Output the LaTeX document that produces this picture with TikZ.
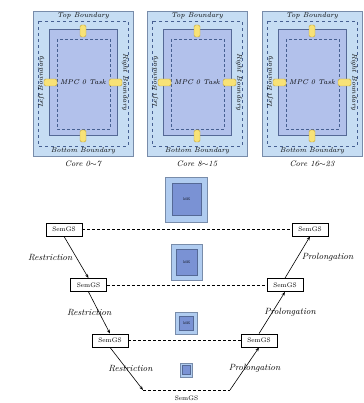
\documentclass[tikz,border=0pt]{standalone}
\usetikzlibrary{arrows.meta}
\definecolor{panelbg}{RGB}{198,221,243}
\definecolor{panelline}{RGB}{120,140,170}
\definecolor{dashline}{RGB}{70,95,145}
\definecolor{innerbg}{RGB}{178,193,235}
\definecolor{innerline}{RGB}{85,105,150}
\definecolor{portfill}{RGB}{248,226,118}
\definecolor{portline}{RGB}{195,165,60}
\definecolor{sqout}{RGB}{176,204,240}
\definecolor{sqin}{RGB}{122,146,212}
\begin{document}
\begin{tikzpicture}[x=1pt,y=-1pt,
  gsbox/.style={draw,line width=.8pt,fill=white,minimum width=36pt,minimum height=13pt,inner sep=1pt,font=\fontsize{6.5}{7}\selectfont},
  lab/.style={font=\fontsize{9}{10}\selectfont\itshape},
  bnd/.style={font=\fontsize{7}{8}\selectfont\itshape,inner sep=0pt},
  port/.style={draw=portline,fill=portfill,rounded corners=1.5pt,line width=.4pt}]
  \useasboundingbox (0,0) rectangle (363,403);
  \foreach \x/\c in {33/{0$\sim$7},147/{8$\sim$15},262/{16$\sim$23}}{
    \begin{scope}[shift={(\x,0)}]
      \draw[fill=panelbg,draw=panelline] (0,11) rectangle (100,156);
      \draw[dashed,draw=dashline,line width=.6pt] (5,21) rectangle (95,146);
      \draw[fill=innerbg,draw=innerline,line width=1pt] (16,30) rectangle (84,136);
      \draw[densely dashed,draw=dashline,line width=.6pt] (24,39) rectangle (77,129);
      \draw[port] (47,25) rectangle (53,37);
      \draw[port] (47,130) rectangle (53,142);
      \draw[port] (11,79) rectangle (24,86);
      \draw[port] (76,79) rectangle (89,86);
      \node[bnd] (top) at (50,16) {Top Boundary};
      \node[bnd] (bottom) at (50,151) {Bottom Boundary};
      \node[bnd,rotate=90] (left) at (8,82) {Left Boundary};
      \node[bnd,rotate=-90] (right) at (92,82) {Right Boundary};
      \node[bnd] (task) at (50,82.5) {MPC 0 Task};
      \node[font=\fontsize{8}{9}\selectfont\itshape] (core) at (50,164) {Core \c};
    \end{scope}}
  \foreach \cy/\w/\h/\iw/\ih in {199.5/42/45/29/32,262/31/36/21/26,323/22/22/14/14,370/12/14/8/9}{
    \draw[fill=sqout,draw=panelline] (186.5-\w/2,\cy-\h/2) rectangle ++(\w,\h);
    \draw[fill=sqin,draw=innerline,line width=.7pt] (186.5-\iw/2,\cy-\ih/2) rectangle ++(\iw,\ih);}
  \foreach \cy in {199.5,262,323}
    \node[font=\fontsize{3.5}{4}\selectfont,inner sep=0pt] at (186.5,\cy) {ME};
  \node[gsbox] (l1) at (64,229.5) {SemGS};
  \node[gsbox] (r1) at (310,229.5) {SemGS};
  \node[gsbox] (l2) at (88.5,285) {SemGS};
  \node[gsbox] (r2) at (285,285) {SemGS};
  \node[gsbox] (l3) at (110,340.5) {SemGS};
  \node[gsbox] (r3) at (259,340.5) {SemGS};
  \coordinate (b1) at (143,390);
  \coordinate (b2) at (230,390);
  \node[font=\fontsize{6.5}{7}\selectfont,inner sep=0pt] (bot) at (186.5,398) {SemGS};
  \draw[densely dashed,line width=.8pt] (l1) -- (r1);
  \draw[densely dashed,line width=.8pt] (l2) -- (r2);
  \draw[densely dashed,line width=.8pt] (l3) -- (r3);
  \draw[densely dashed,line width=.8pt] (b1) -- (b2);
  \draw[-{Stealth[length=4pt]},line width=.6pt] (l1.south) -- (l2.north) node[lab,midway,xshift=-26pt] {Restriction};
  \draw[-{Stealth[length=4pt]},line width=.6pt] (l2.south) -- (l3.north) node[lab,midway,xshift=-10pt] {Restriction};
  \draw[-{Stealth[length=4pt]},line width=.6pt] (l3.south) -- (b1) node[lab,midway,xshift=4pt] {Restriction};
  \draw[-{Stealth[length=4pt]},line width=.6pt] (b2) -- (r3.south) node[lab,midway,xshift=10pt] {Prolongation};
  \draw[-{Stealth[length=4pt]},line width=.6pt] (r3.north) -- (r2.south) node[lab,midway,xshift=18pt] {Prolongation};
  \draw[-{Stealth[length=4pt]},line width=.6pt] (r2.north) -- (r1.south) node[lab,midway,xshift=30pt] {Prolongation};
\end{tikzpicture}
\end{document}
